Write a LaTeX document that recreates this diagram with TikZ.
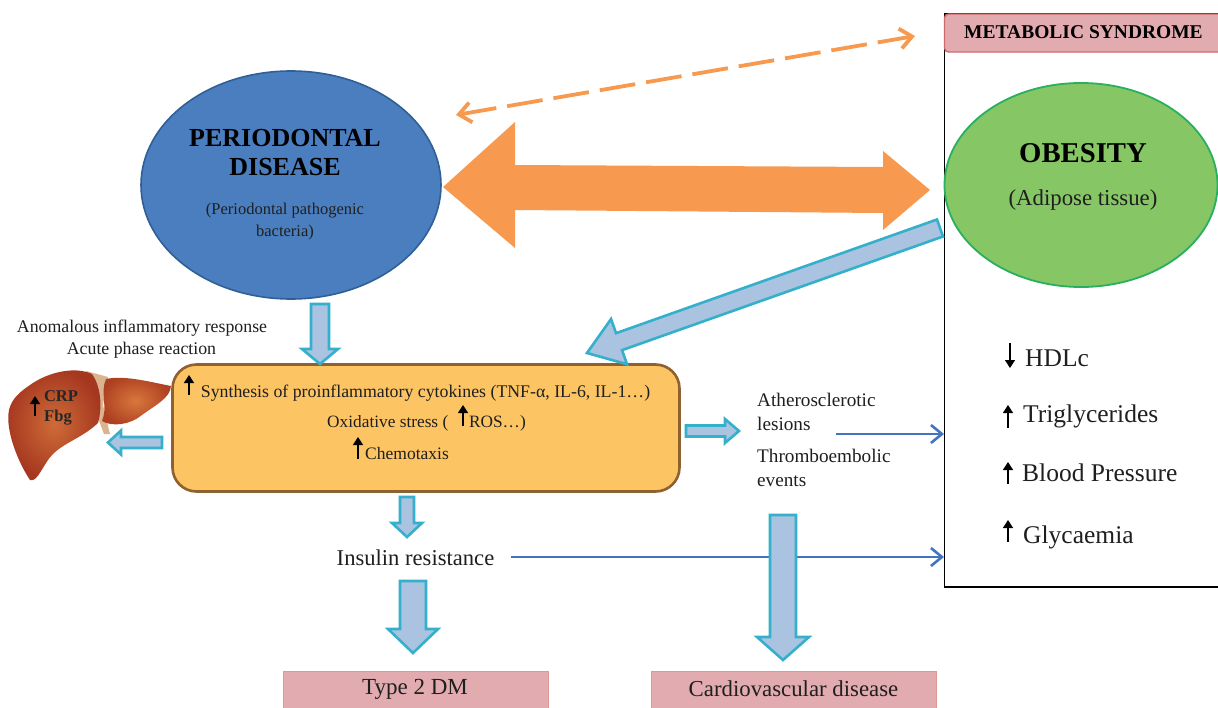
\documentclass[tikz,border=0pt]{standalone}
\usepackage{fontspec}
\setmainfont{Liberation Serif}
\usetikzlibrary{calc,arrows.meta,shapes.geometric}
\definecolor{arrowfill}{HTML}{A9C3E0}
\definecolor{arrowedge}{HTML}{35B0CC}
\definecolor{orangeA}{HTML}{F79A50}
\definecolor{pinkfill}{HTML}{E2ABB0}
\definecolor{pinkedge}{HTML}{CF6A6A}
\definecolor{linkblue}{HTML}{4474C0}
\definecolor{pdedge}{HTML}{2F5F96}
\definecolor{pdfill}{HTML}{4A7EBE}
\definecolor{obedge}{HTML}{28AF5F}
\definecolor{obfill}{HTML}{86C664}
\definecolor{coreedge}{HTML}{8F6030}
\definecolor{corefill}{HTML}{FCC463}
\definecolor{ligament}{HTML}{D9B48E}
\definecolor{liverA}{HTML}{CE6C38}
\definecolor{liverB}{HTML}{A5361F}
\definecolor{liverC}{HTML}{D8773C}
\definecolor{liverD}{HTML}{AE4022}
\tikzset{
  txt/.style={inner sep=0pt,align=center,text=black!88,font=\fontsize{#1}{#1}\selectfont},
  txtb/.style={inner sep=0pt,align=center,text=black,font=\fontsize{#1}{#1}\selectfont\bfseries},
  blockarrow/.style={fill=arrowfill,draw=arrowedge,line width=2.6pt,line join=miter},
  thinlink/.style={draw=linkblue,line width=2.6pt,-{Straight Barb[length=11pt,width=18pt,line width=2.6pt]}},
  smallup/.style={draw=black,line width=1.3pt,-{Triangle[length=8pt,width=10pt]}},
  pinkbox/.style={fill=pinkfill,draw=pinkedge!70,line width=1pt},
}
% from, to, shaft half width, head half width, head length
\newcommand\blockarr[5]{%
  \coordinate (ba) at ($(#2)!#5pt!(#1)$);
  \draw[blockarrow]
    ($(#1)!#3pt!90:(#2)$) -- ($(ba)!#3pt!90:(#2)$) -- ($(ba)!#4pt!90:(#2)$) -- (#2)
    -- ($(ba)!#4pt!-90:(#2)$) -- ($(ba)!#3pt!-90:(#2)$) -- ($(#1)!#3pt!-90:(#2)$) -- cycle;
}
\begin{document}
\begin{tikzpicture}[x=1pt,y=-1pt]
\useasboundingbox (0,0) rectangle (1218,707);
\fill[white] (0,0) rectangle (1218,707);

% metabolic syndrome panel
\draw[black,line width=1.8pt] (1240,14) -- (944.5,14) -- (944.5,587) -- (1240,587);
\draw[fill=pinkfill,draw=pinkedge,line width=1.4pt,rounded corners=4pt] (944.5,14) rectangle (1230,52);
\node[txtb=19.5] (ms) at (1083.5,32) {METABOLIC SYNDROME};

% main ellipses
\node[ellipse,draw=pdedge,fill=pdfill,line width=1.6pt,minimum width=300pt,minimum height=228pt,inner sep=0pt] (pd) at (291,185) {};
\node[ellipse,draw=obedge,fill=obfill,line width=1.8pt,minimum width=273pt,minimum height=204pt,inner sep=0pt] (ob) at (1081,185) {};

\node[txtb=26] (pdt1) at (285,138) {PERIODONTAL};
\node[txtb=26] (pdt2) at (285,167) {DISEASE};
\node[txt=16.5] (pdt3) at (285,211) {(Periodontal pathogenic};
\node[txt=16.5] (pdt4) at (285,233) {bacteria)};
\node[txtb=28.7] (obt1) at (1083,153) {OBESITY};
\node[txt=22.8] (obt2) at (1083,200) {(Adipose tissue)};

% dashed double arrow
\coordinate (dA) at (456,115);
\coordinate (dB) at (915,36);
\draw[draw=orangeA,line width=3.8pt,dash pattern=on 36pt off 11pt,{Straight Barb[length=12pt,width=20pt,line width=3.8pt]}-{Straight Barb[length=12pt,width=20pt,line width=3.8pt]}] (dA) -- (dB);

% big orange double arrow
\coordinate (oL) at (443,187);
\coordinate (oR) at (930,190);
\fill[orangeA] (oL) -- (515,122) -- (515,165) -- (883,167) -- (883,151) -- (oR) -- (883,230) -- (883,213) -- (515,210) -- (515,248) -- cycle;

% central box
\node[draw=coreedge,fill=corefill,line width=2.6pt,rounded corners=24pt,minimum width=507pt,minimum height=127pt,inner sep=0pt] (core) at (426,428) {};
\node[txt=17.8] (t1) at (425.5,393) {Synthesis of proinflammatory cytokines (TNF-α, IL-6, IL-1…)};
\node[txt=17.3] (t2) at (426.5,423) {Oxidative stress (\hspace{1.2em}ROS…)};
\node[txt=17.5] (t3) at (407,454) {Chemotaxis};
\draw[smallup] (189,395) -- (189,375);
\draw[smallup] (463,426) -- (463,405);
\draw[smallup] (358,459) -- (358,437);

\node[txt=17.8] (anom) at (142,328) {Anomalous inflammatory response};
\node[txt=17.8] (acute) at (141.5,350) {Acute phase reaction};

% liver
\fill[ligament] (86,371) -- (108,377) -- (103,405) -- (110,434) -- (104,434) -- (95,410) -- cycle;
\shade[inner color=liverA,outer color=liverB]
  (30,385) .. controls (48,372) and (75,366) .. (92,374)
  .. controls (100,385) and (103,405) .. (98,423)
  .. controls (80,440) and (60,443) .. (48,460)
  .. controls (40,472) and (36,482) .. (30,480)
  .. controls (18,462) and (5,430) .. (9,410)
  .. controls (12,398) and (20,392) .. (30,385) -- cycle;
\shade[inner color=liverC,outer color=liverD]
  (106,379) .. controls (125,375) and (150,382) .. (171,386)
  .. controls (170,398) and (157,404) .. (142,415)
  .. controls (130,425) and (112,427) .. (102,421)
  .. controls (108,408) and (100,392) .. (106,379) -- cycle;
\node[txtb=16.5,text=black!85] (crp) at (61,396) {CRP};
\node[txtb=16.5,text=black!85] (fbg) at (58,418) {Fbg};
\draw[smallup] (35,416) -- (35,396);

% central block arrows
\coordinate (aS) at (320,304);
\coordinate (aE) at (320,364);
\blockarr{aS}{aE}{9}{18}{15}
\coordinate (bS) at (940,228);
\coordinate (bE) at (587,353);
\blockarr{bS}{bE}{9}{24}{34}
\coordinate (cS) at (162,442.5);
\coordinate (cE) at (108,442.5);
\blockarr{cS}{cE}{5.5}{12}{13}
\coordinate (dS) at (686,431);
\coordinate (dE) at (739,431);
\blockarr{dS}{dE}{5.5}{12}{14}
\coordinate (eS) at (407,497);
\coordinate (eE) at (407,537);
\blockarr{eS}{eE}{7}{15}{14}

% right-hand text
\node[txt=19.2,anchor=west] (ath1) at (757,400) {Atherosclerotic};
\node[txt=19.2,anchor=west] (ath2) at (757,424) {lesions};
\node[txt=19.2,anchor=west] (thr1) at (757,456) {Thromboembolic};
\node[txt=19.2,anchor=west] (thr2) at (757,481) {events};

\node[txt=22.6] (ins) at (415.5,558) {Insulin resistance};

% thin links
\coordinate (lA) at (836,434);
\coordinate (lAe) at (944,434);
\draw[thinlink] (lA) -- (lAe);
\coordinate (lBe) at (944,557);
\coordinate (lB) at (511,557);
\draw[thinlink] (lB) -- (lBe);

% outcome boxes
\node[pinkbox,minimum width=265pt,minimum height=50pt,inner sep=0pt] (dm) at (415.5,696) {};
\node[pinkbox,minimum width=285pt,minimum height=50pt,inner sep=0pt] (cv) at (793.5,696) {};
\node[txt=23] (dmt) at (415,689) {Type 2 DM};
\node[txt=22.8] (cvt) at (793.5,689) {Cardiovascular disease};

\coordinate (fS) at (413,581);
\coordinate (fE) at (413,653);
\blockarr{fS}{fE}{13}{25}{24}
\coordinate (gS) at (783,515);
\coordinate (gE) at (783,660);
\blockarr{gS}{gE}{13}{26}{23}

% syndrome list
\node[txt=25.5,anchor=west] (hdl) at (1025,358) {HDLc};
\node[txt=25.5,anchor=west] (tri) at (1023,416) {Triglycerides};
\node[txt=25.5,anchor=west] (bp) at (1022,473) {Blood Pressure};
\node[txt=25.5,anchor=west] (gly) at (1023,537) {Glycaemia};
\draw[smallup] (1010,343) -- (1010,368);
\draw[smallup] (1008,428) -- (1008,405);
\draw[smallup] (1008,484) -- (1008,462);
\draw[smallup] (1008,542) -- (1008,520);
\end{tikzpicture}
\end{document}
